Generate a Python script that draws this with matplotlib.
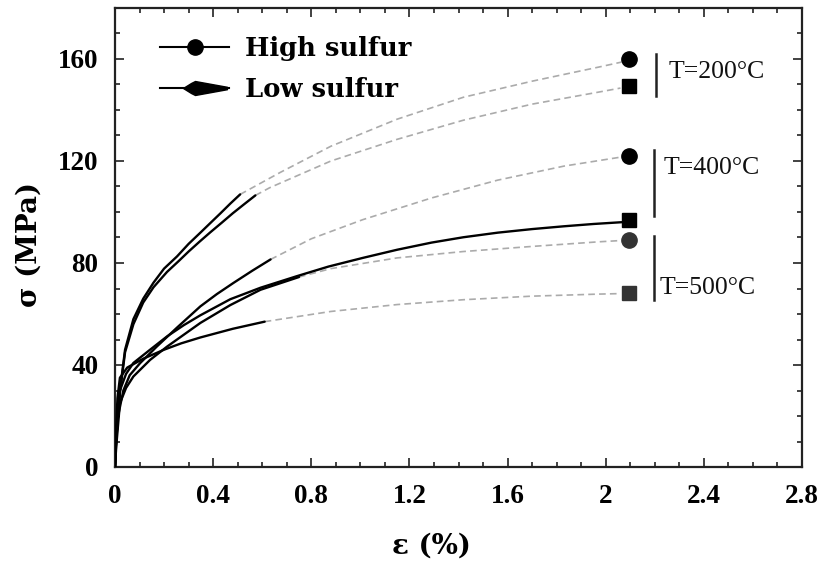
import matplotlib
matplotlib.use('Agg')
import matplotlib.pyplot as plt
from matplotlib.lines import Line2D
from matplotlib.path import Path
from matplotlib.ticker import MultipleLocator, FuncFormatter

# ---------------- data ----------------
# T = 200 C, high sulfur
hs200_solid_x = [0, 0.004, 0.012, 0.02, 0.041, 0.075, 0.115, 0.157, 0.2, 0.253, 0.3, 0.348, 0.39, 0.43, 0.47, 0.51]
hs200_solid_y = [0, 10, 19.7, 30, 46, 58, 66, 72.3, 77.8, 82.6, 87.5, 91.9, 95.8, 99.5, 103.3, 106.9]
hs200_dash_x = [0.51, 0.675, 0.88, 1.15, 1.42, 1.70, 1.97, 2.065]
hs200_dash_y = [106.9, 115.6, 125.8, 136.4, 145, 151.3, 156.8, 158.8]

# T = 200 C, low sulfur
ls200_solid_x = [0, 0.004, 0.012, 0.02, 0.041, 0.075, 0.115, 0.157, 0.212, 0.26, 0.3, 0.345, 0.388, 0.435, 0.48, 0.527, 0.572]
ls200_solid_y = [0, 10, 19.5, 29, 45, 56, 64.5, 70.5, 76.5, 80.8, 84.5, 88.4, 92, 95.8, 99.5, 103.1, 106.5]
ls200_dash_x = [0.572, 0.63, 0.88, 1.15, 1.42, 1.70, 1.97, 2.06]
ls200_dash_y = [106.5, 109.5, 120, 128.5, 136, 142.3, 147, 148.6]

# T = 400 C, high sulfur
hs400_solid_x = [0, 0.005, 0.012, 0.034, 0.06, 0.102, 0.17, 0.252, 0.348, 0.415, 0.483, 0.56, 0.634]
hs400_solid_y = [0, 10, 19.7, 30, 36, 40.7, 47.2, 54.6, 63, 67.8, 72.2, 77, 81.4]
hs400_dash_x = [0.634, 0.8, 1.01, 1.29, 1.56, 1.83, 2.06]
hs400_dash_y = [81.4, 89.5, 97, 105.5, 112.5, 118, 121.5]

# T = 400 C, low sulfur (solid over the whole range)
ls400_x = [0, 0.005, 0.02, 0.045, 0.075, 0.143, 0.212, 0.28, 0.348, 0.47, 0.593, 0.74, 0.87, 1.01, 1.15, 1.29, 1.42, 1.56, 1.7, 1.83, 1.95, 2.065]
ls400_y = [0, 12, 30, 36.5, 40.8, 46, 51.2, 55.6, 59.5, 65.8, 70.3, 74.8, 78.6, 82, 85.2, 88, 90.1, 91.9, 93.3, 94.4, 95.3, 96]

# T = 500 C, high sulfur
hs500_solid_x = [0, 0.005, 0.02, 0.045, 0.075, 0.143, 0.212, 0.348, 0.47, 0.593, 0.75]
hs500_solid_y = [0, 8, 25, 31, 35.5, 42, 47.2, 56.5, 63.5, 69.5, 74.5]
hs500_dash_x = [0.75, 0.88, 1.15, 1.42, 1.70, 1.97, 2.06]
hs500_dash_y = [74.5, 77.8, 82, 84.5, 86.5, 88.3, 88.8]

# T = 500 C, low sulfur
ls500_solid_x = [0, 0.004, 0.01, 0.02, 0.05, 0.116, 0.2, 0.27, 0.348, 0.48, 0.61]
ls500_solid_y = [0, 14, 27, 35, 39, 42.5, 46, 48.5, 50.8, 54.2, 57]
ls500_dash_x = [0.61, 0.88, 1.15, 1.42, 1.70, 1.97, 2.06]
ls500_dash_y = [57, 61, 63.7, 65.6, 67, 67.8, 68]

# end-point markers
circle_x = [2.095, 2.095, 2.095]
circle_y = [160, 122, 89]
square_x = [2.095, 2.095, 2.095]
square_y = [149.4, 97, 68.4]

legend_labels = ['High sulfur', 'Low sulfur']
temp_labels = ['T=200°C', 'T=400°C', 'T=500°C']

# ---------------- figure ----------------
fig = plt.figure(figsize=(8.28, 5.64), dpi=100)
ax = fig.add_axes([115 / 828, (564 - 467) / 564, 687 / 828, 459 / 564])

solid_kw = dict(color='black', lw=1.7, solid_capstyle='round', solid_joinstyle='round', zorder=3)
dash_kw = dict(color='#ababab', lw=1.2, linestyle=(0, (4, 2.5)), zorder=2)

for sx, sy, dx, dy in [
    (hs200_solid_x, hs200_solid_y, hs200_dash_x, hs200_dash_y),
    (ls200_solid_x, ls200_solid_y, ls200_dash_x, ls200_dash_y),
    (hs400_solid_x, hs400_solid_y, hs400_dash_x, hs400_dash_y),
    (hs500_solid_x, hs500_solid_y, hs500_dash_x, hs500_dash_y),
    (ls500_solid_x, ls500_solid_y, ls500_dash_x, ls500_dash_y),
]:
    ax.plot(dx, dy, **dash_kw)
    ax.plot(sx, sy, **solid_kw)
ax.plot(ls400_x, ls400_y, **solid_kw)

mcols_c = ['black', 'black', '#333333']
mcols_s = ['black', 'black', '#333333']
for x, y, c in zip(circle_x, circle_y, mcols_c):
    ax.plot([x], [y], marker='o', ms=11, color=c, zorder=4, ls='none')
for x, y, c in zip(square_x, square_y, mcols_s):
    ax.plot([x], [y], marker='s', ms=9.5, color=c, zorder=4, ls='none')

# temperature brackets
ax.plot([2.204, 2.204], [145.4, 162], color='#222222', lw=1.8)
ax.plot([2.198, 2.198], [98.4, 124.3], color='#222222', lw=1.8)
ax.plot([2.198, 2.198], [65.6, 90.4], color='#222222', lw=1.8)
tfont = dict(family='Liberation Serif', fontsize=18.5, va='center', ha='left', color='#111111')
ax.text(2.258, 154.9, temp_labels[0], **tfont)
ax.text(2.236, 117.3, temp_labels[1], **tfont)
ax.text(2.22, 70.2, temp_labels[2], **tfont)

# axes
ax.set_xlim(0, 2.8)
ax.set_ylim(0, 180)
ax.xaxis.set_major_locator(MultipleLocator(0.4))
ax.xaxis.set_minor_locator(MultipleLocator(0.1))
ax.yaxis.set_major_locator(MultipleLocator(40))
ax.yaxis.set_minor_locator(MultipleLocator(10))
ax.xaxis.set_major_formatter(FuncFormatter(lambda v, p: f'{v:g}'))
ax.yaxis.set_major_formatter(FuncFormatter(lambda v, p: f'{v:g}'))
ax.tick_params(which='both', direction='in', top=True, right=True, color='#222222', width=1.2)
ax.tick_params(which='major', length=6.5)
ax.tick_params(which='minor', length=3.6)
ax.tick_params(axis='y', which='major', pad=12)
ax.tick_params(axis='x', which='major', pad=12)
for lab in ax.get_xticklabels() + ax.get_yticklabels():
    lab.set_family('Liberation Serif')
    lab.set_fontweight('bold')
    lab.set_fontsize(19.5)
for sp in ax.spines.values():
    sp.set_linewidth(1.6)
    sp.set_color('#222222')

ax.set_xlabel('ε (%)', family='DejaVu Serif', fontweight='bold', fontsize=20)
ax.set_ylabel('σ (MPa)', family='DejaVu Serif', fontweight='bold', fontsize=20)
ax.xaxis.set_label_coords(0.46, -0.142)
ax.yaxis.set_label_coords(-0.105, 0.484)

# legend
arrow_path = Path([(-12, 0), (-4, 5), (0, 7), (32, 1.2), (32, -1.2), (0, -7), (-4, -5), (-12, 0)],
                  [Path.MOVETO] + [Path.LINETO] * 6 + [Path.CLOSEPOLY])
h1 = Line2D([], [], color='black', lw=1.5, marker='o', ms=11)
h2 = Line2D([], [], color='black', lw=1.5, marker=arrow_path, ms=46)
leg = ax.legend([h1, h2], legend_labels, loc='upper left', bbox_to_anchor=(0.0655, 0.939),
                borderaxespad=0, borderpad=0, frameon=False, handlelength=2.7,
                handletextpad=0.62, labelspacing=0.62,
                prop=dict(family='DejaVu Serif', weight='bold', size=18.5))

fig.savefig('out.png', dpi=100)
